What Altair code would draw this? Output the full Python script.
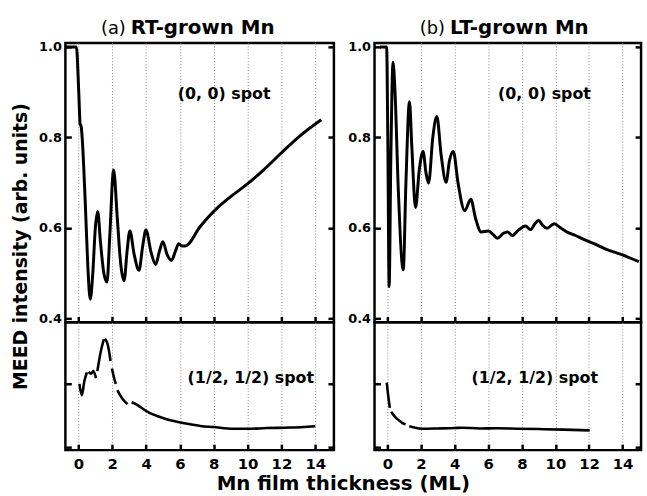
import altair as alt
import pandas as pd

# ---------------- data ----------------
# (a) RT-grown, (0,0) spot
rt00_x = [-0.75, -0.12, 0.02, 0.1, 0.16, 0.22, 0.4, 0.55, 0.7, 0.85, 1.0, 1.14, 1.3, 1.5, 1.69,
          1.85, 2.08, 2.3, 2.5, 2.7, 2.88, 3.04, 3.3, 3.58, 3.8, 3.99, 4.3, 4.56, 4.8, 4.99,
          5.25, 5.5, 5.75, 5.93, 6.1, 6.32, 7.2, 8.18, 9.0, 9.95, 11.0, 12.0, 13.08, 14.35]
rt00_y = [1.0, 1.0, 0.90, 0.83, 0.825, 0.80, 0.66, 0.52, 0.442, 0.50, 0.60, 0.636, 0.57, 0.50, 0.480,
          0.58, 0.728, 0.62, 0.52, 0.483, 0.55, 0.593, 0.54, 0.506, 0.56, 0.595, 0.545, 0.519, 0.55, 0.569,
          0.54, 0.528, 0.55, 0.565, 0.56, 0.56, 0.603, 0.643, 0.669, 0.696, 0.73, 0.766, 0.803, 0.839]

# (a) RT-grown, (1/2,1/2) spot (broken trace -> segments)
rthh_x = [0.06, 0.2, 0.35, 0.5,
          0.6, 0.75, 0.88, 1.04,
          1.12, 1.33, 1.5,
          1.57, 1.73, 1.9,
          1.98, 2.1, 2.21,
          2.3, 2.61, 2.9,
          3.15, 3.4, 3.68, 4.2, 4.86, 5.5, 6.42, 7.2, 7.99, 9.16, 10.0, 11.1, 12.5, 14.0]
rthh_y = [0.50, 0.41, 0.52, 0.59,
          0.595, 0.58, 0.60, 0.545,
          0.60, 0.76, 0.85,
          0.855, 0.81, 0.68,
          0.62, 0.55, 0.50,
          0.45, 0.38, 0.34,
          0.355, 0.34, 0.315, 0.27, 0.237, 0.21, 0.185, 0.168, 0.159, 0.146, 0.145, 0.151, 0.155, 0.166]
rthh_seg = [0, 0, 0, 0,
            1, 1, 1, 1,
            2, 2, 2,
            3, 3, 3,
            4, 4, 4,
            5, 5, 5,
            6, 6, 6, 6, 6, 6, 6, 6, 6, 6, 6, 6, 6, 6]

# (b) LT-grown, (0,0) spot
lt00_x = [-0.45, -0.05, 0.02, 0.1, 0.2, 0.33, 0.45, 0.65, 0.94, 1.1, 1.31, 1.45, 1.67, 1.9, 2.12,
          2.3, 2.45, 2.7, 2.94, 3.2, 3.49, 3.7, 3.92, 4.2, 4.6, 4.96, 5.25, 5.58, 6.01, 6.3,
          6.56, 6.9, 7.15, 7.44, 7.8, 8.22, 8.51, 8.8, 9.0, 9.25, 9.5, 9.92, 10.3, 10.67,
          11.2, 11.65, 12.3, 13.0, 14.0, 14.97]
lt00_y = [1.0, 1.0, 0.80, 0.47, 0.75, 0.966, 0.90, 0.68, 0.507, 0.70, 0.879, 0.78, 0.645, 0.73, 0.769,
          0.72, 0.699, 0.80, 0.846, 0.76, 0.701, 0.75, 0.769, 0.70, 0.638, 0.663, 0.62, 0.591, 0.593, 0.585,
          0.577, 0.588, 0.591, 0.583, 0.595, 0.604, 0.596, 0.61, 0.616, 0.605, 0.599, 0.609, 0.60, 0.591,
          0.583, 0.575, 0.565, 0.553, 0.54, 0.525]

# (b) LT-grown, (1/2,1/2) spot
lthh_x = [-0.04, 0.05, 0.14,
          0.22, 0.45, 0.69, 0.9, 1.08,
          1.3, 1.6, 2.06, 3.0, 4.02, 4.4, 5.5, 6.5, 7.73, 9.0, 10.5, 12.04]
lthh_y = [0.51, 0.40, 0.31,
          0.28, 0.24, 0.211, 0.19, 0.18,
          0.165, 0.155, 0.146, 0.148, 0.151, 0.154, 0.148, 0.149, 0.146, 0.143, 0.139, 0.133]
lthh_seg = [0, 0, 0,
            1, 1, 1, 1, 1,
            2, 2, 2, 2, 2, 2, 2, 2, 2, 2, 2, 2]

x_ticks = [0, 2, 4, 6, 8, 10, 12, 14]
top_ticks = [0.4, 0.6, 0.8, 1.0]
bot_ticks = [0.0, 0.5]

titles_reg = ["(a)", "(b)"]
titles_bold = ["RT-grown Mn", "LT-grown Mn"]
spot00 = "(0, 0) spot"
spothh = "(1/2, 1/2) spot"
y_title = "MEED intensity (arb. units)"
x_title = "Mn film thickness (ML)"

# annotation anchor positions (data coordinates)
title_pos = [(2.8, 3.09), (3.43, 3.72)]
title_y = 1.0285
spot00_pos = [(8.61, 0.896), (9.35, 0.896)]
spothh_pos = [(10.19, 0.549), (8.77, 0.549)]

XDOM = [-0.77, 15.1]
TOPDOM = [0.391, 1.009]
BOTDOM = [-0.023, 0.985]
FONT = "DejaVu Sans"


def xscale():
    return alt.Scale(domain=XDOM, nice=False, zero=False)


def x_axis(labels, title=None):
    kw = dict(values=x_ticks, orient="bottom", offset=-6, tickSize=6, tickWidth=2.5,
              tickColor="black", domain=False, grid=True, gridDash=[1, 2],
              gridColor="#8a8a8a", gridWidth=1, labels=labels, labelFontSize=15,
              labelFontWeight="bold", labelPadding=7, labelColor="black",
              labelFont=FONT)
    if title:
        kw.update(title=title, titleFont=FONT, titleFontSize=20, titleFontWeight="bold",
                  titleColor="black", titleX=280, titleY=46, titleAlign="center",
                  titleBaseline="alphabetic", titleLimit=1000)
    else:
        kw.update(title=None)
    return alt.Axis(**kw)


def y_axis_left(ticks, labels, title=None):
    kw = dict(values=ticks, orient="left", offset=-6, tickSize=6, tickWidth=2.5,
              tickColor="black", domain=False, grid=False, labels=labels,
              labelFontSize=13, labelFontWeight="bold", labelPadding=4, labelColor="black",
              labelFont=FONT, format=".1f")
    if title:
        kw.update(title=title, titleFont=FONT, titleFontSize=19, titleFontWeight="bold",
                  titleColor="black", titleX=-41, titleY=205, titleAngle=270,
                  titleAlign="center", titleBaseline="bottom", titleLimit=1000)
    else:
        kw.update(title=None)
    return alt.Axis(**kw)


def y_axis_right(ticks):
    return alt.Axis(values=ticks, orient="right", offset=-6, tickSize=6, tickWidth=2.5,
                    tickColor="black", domain=False, grid=False, labels=False, title=None)


def panel(i, top, xs, ys, seg=None, xlabels=False, ytitle=None, xtitle=None):
    dom = TOPDOM if top else BOTDOM
    ticks = top_ticks if top else bot_ticks
    d = pd.DataFrame({"x": xs, "y": ys, "seg": seg if seg is not None else [0] * len(xs)})
    xe = alt.X("x:Q", scale=xscale(), axis=x_axis(xlabels, xtitle))
    line = alt.Chart(d).mark_line(color="black", strokeWidth=3 if top else 2.6,
                                  interpolate="monotone").encode(
        x=xe,
        y=alt.Y("y:Q", scale=alt.Scale(domain=dom, nice=False, zero=False),
                axis=y_axis_left(ticks, top, ytitle)),
        detail="seg:N",
    )
    if top:
        ax, ay = spot00_pos[i]
        label = spot00
    else:
        ax, ay = spothh_pos[i]
        label = spothh
    ad = pd.DataFrame({"x": [ax], "y": [ay], "t": [label]})
    annot = alt.Chart(ad).mark_text(font=FONT, fontSize=16, fontWeight="bold", color="black",
                                    align="center", baseline="middle").encode(
        x=xe,
        y=alt.Y("y:Q", scale=alt.Scale(domain=dom, nice=False, zero=False),
                axis=y_axis_right(ticks)),
        text="t:N",
    )
    layers = [line, annot]
    if top:
        rx, bx = title_pos[i]
        td_r = pd.DataFrame({"x": [rx], "y": [title_y], "t": [titles_reg[i]]})
        td_b = pd.DataFrame({"x": [bx], "y": [title_y], "t": [titles_bold[i]]})
        t_r = alt.Chart(td_r).mark_text(font=FONT, fontSize=18, fontWeight="normal",
                                        color="black", align="right",
                                        baseline="alphabetic").encode(
            x=xe, y=alt.Y("y:Q", scale=alt.Scale(domain=dom, nice=False, zero=False), axis=None),
            text="t:N")
        t_b = alt.Chart(td_b).mark_text(font=FONT, fontSize=20, fontWeight="bold",
                                        color="black", align="left",
                                        baseline="alphabetic").encode(
            x=xe, y=alt.Y("y:Q", scale=alt.Scale(domain=dom, nice=False, zero=False), axis=None),
            text="t:N")
        layers += [t_r, t_b]
    w = 271 if i == 0 else 269
    h = 282 if top else 129
    return alt.layer(*layers).resolve_scale(y="independent").properties(width=w, height=h)


TL = panel(0, True, rt00_x, rt00_y, ytitle=y_title)
TR = panel(1, True, lt00_x, lt00_y)
BL = panel(0, False, rthh_x, rthh_y, seg=rthh_seg, xlabels=True, xtitle=x_title)
BR = panel(1, False, lthh_x, lthh_y, seg=lthh_seg, xlabels=True)

chart = alt.concat(TL, TR, BL, BR, columns=2,
                   spacing=alt.RowColnumber(row=0, column=41),
                   bounds="flush").properties(
    padding={"left": 10, "top": 14, "right": 0, "bottom": 0},
    background="white",
).configure_view(stroke="black", strokeWidth=2.5)

chart.save("out.html", embed_options={"renderer": "svg", "actions": False})
